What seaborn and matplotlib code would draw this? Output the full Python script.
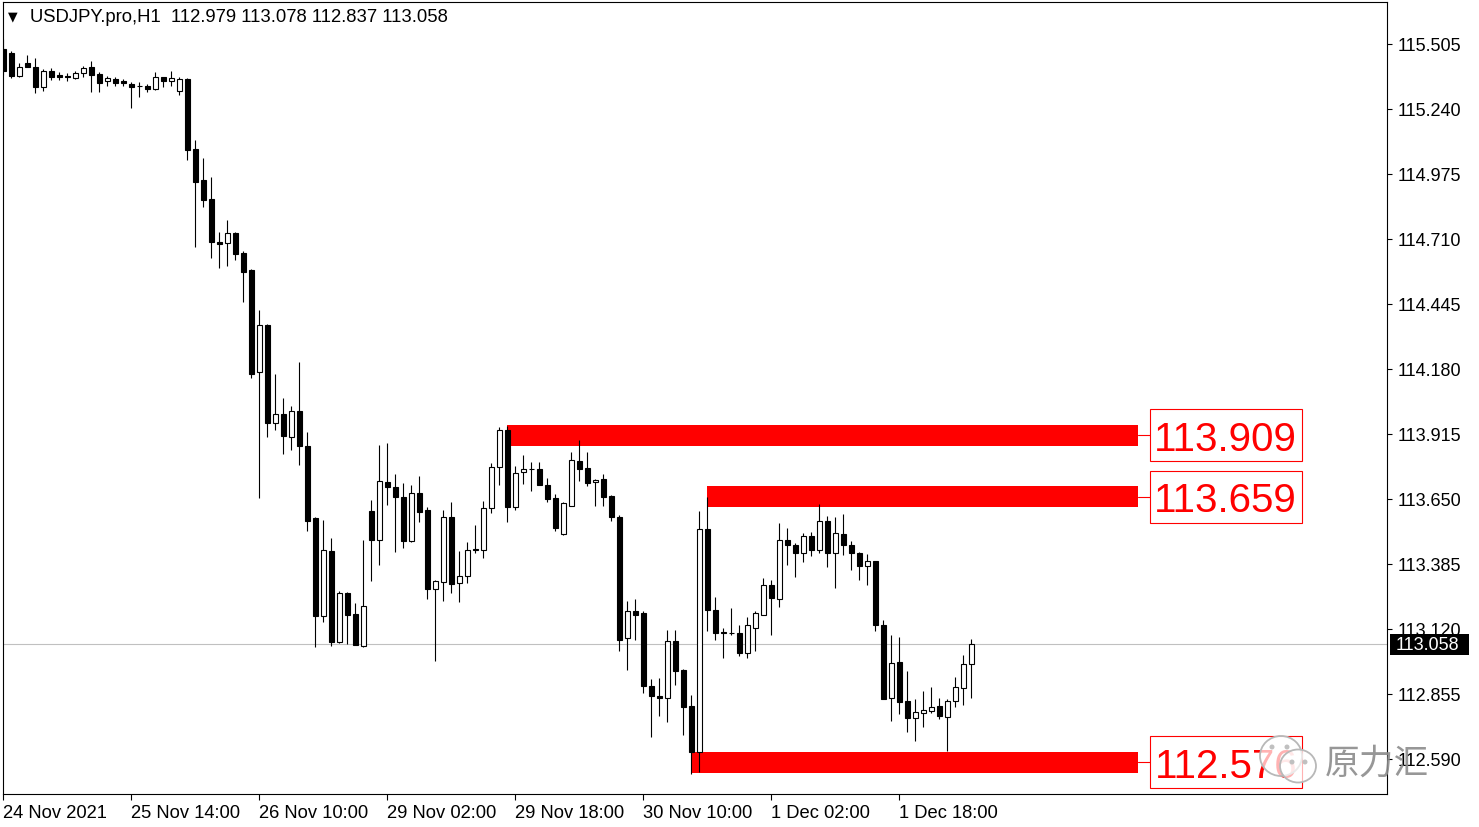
import matplotlib
matplotlib.use("Agg")
import matplotlib.pyplot as plt
import matplotlib.transforms as mtransforms
from matplotlib.patches import Rectangle, Ellipse
import numpy as np
import pandas as pd
import seaborn as sns

# ---------------- data ----------------
symbol_title = "USDJPY.pro,H1  112.979 113.078 112.837 113.058"

opens = [115.485, 115.470, 115.375, 115.428, 115.412, 115.329, 115.395, 115.380, 115.376, 115.366,
         115.386, 115.410, 115.383, 115.353, 115.361, 115.355, 115.342, 115.334, 115.333, 115.322,
         115.369, 115.353, 115.312, 115.362, 115.077, 114.951, 114.873, 114.696, 114.693, 114.735,
         114.653, 114.584, 114.167, 114.359, 113.959, 113.997, 113.902, 114.008, 113.865, 113.571,
         113.174, 113.437, 113.068, 113.267, 113.181, 113.050, 113.600, 113.483, 113.721, 113.698,
         113.657, 113.480, 113.673, 113.605, 113.283, 113.311, 113.575, 113.306, 113.335, 113.446,
         113.443, 113.612, 113.779, 113.931, 113.616, 113.759, 113.772, 113.772, 113.707, 113.654,
         113.505, 113.623, 113.806, 113.776, 113.718, 113.732, 113.662, 113.575, 113.082, 113.195,
         113.185, 112.886, 112.846, 112.838, 113.072, 112.953, 112.805, 112.620, 113.528, 113.198,
         113.108, 113.104, 113.103, 113.022, 113.123, 113.178, 113.301, 113.242, 113.484, 113.464,
         113.429, 113.498, 113.443, 113.558, 113.429, 113.507, 113.464, 113.430, 113.378, 113.396,
         113.136, 112.838, 112.984, 112.825, 112.756, 112.776, 112.785, 112.805, 112.760, 112.825,
         112.878, 112.979]

highs = [115.525, 115.477, 115.428, 115.460, 115.448, 115.403, 115.407, 115.391, 115.387, 115.395,
         115.415, 115.436, 115.391, 115.375, 115.371, 115.362, 115.350, 115.350, 115.342, 115.391,
         115.372, 115.395, 115.371, 115.366, 115.115, 115.040, 114.964, 114.737, 114.788, 114.739,
         114.662, 114.588, 114.421, 114.364, 114.160, 114.061, 114.028, 114.207, 113.922, 113.575,
         113.566, 113.491, 113.274, 113.271, 113.226, 113.483, 113.646, 113.870, 113.877, 113.752,
         113.714, 113.707, 113.743, 113.616, 113.320, 113.606, 113.637, 113.437, 113.473, 113.544,
         113.643, 113.797, 113.942, 113.948, 113.786, 113.829, 113.800, 113.802, 113.734, 113.670,
         113.639, 113.843, 113.892, 113.840, 113.732, 113.752, 113.666, 113.585, 113.233, 113.242,
         113.195, 112.916, 112.920, 113.116, 113.116, 112.957, 112.851, 113.602, 113.659, 113.251,
         113.123, 113.204, 113.136, 113.168, 113.195, 113.327, 113.320, 113.552, 113.531, 113.470,
         113.511, 113.514, 113.630, 113.580, 113.575, 113.589, 113.478, 113.435, 113.426, 113.398,
         113.158, 113.096, 113.086, 112.948, 112.835, 112.866, 112.885, 112.838, 112.835, 112.926,
         113.014, 113.078]

lows = [115.379, 115.366, 115.371, 115.409, 115.305, 115.313, 115.358, 115.358, 115.354, 115.362,
        115.371, 115.309, 115.309, 115.334, 115.334, 115.334, 115.244, 115.289, 115.309, 115.318,
        115.331, 115.334, 115.298, 115.033, 114.679, 114.842, 114.633, 114.592, 114.599, 114.626,
        114.452, 114.142, 113.653, 113.902, 113.929, 113.834, 113.851, 113.789, 113.521, 113.048,
        113.147, 113.052, 113.063, 113.059, 113.054, 113.048, 113.317, 113.382, 113.627, 113.433,
        113.449, 113.476, 113.555, 113.242, 112.988, 113.235, 113.267, 113.231, 113.308, 113.430,
        113.408, 113.593, 113.707, 113.555, 113.606, 113.711, 113.684, 113.706, 113.639, 113.521,
        113.503, 113.620, 113.725, 113.704, 113.623, 113.620, 113.558, 113.032, 112.954, 113.076,
        112.858, 112.681, 112.767, 112.740, 112.893, 112.689, 112.529, 112.536, 113.113, 113.076,
        113.001, 113.096, 113.009, 113.001, 113.032, 113.176, 113.097, 113.211, 113.382, 113.333,
        113.392, 113.416, 113.429, 113.372, 113.286, 113.423, 113.362, 113.321, 113.299, 113.113,
        112.833, 112.746, 112.774, 112.701, 112.665, 112.722, 112.778, 112.753, 112.621, 112.801,
        112.811, 112.837]

closes = [115.395, 115.375, 115.411, 115.411, 115.329, 115.394, 115.371, 115.369, 115.369, 115.386,
          115.407, 115.380, 115.345, 115.366, 115.347, 115.345, 115.329, 115.332, 115.322, 115.369,
          115.353, 115.366, 115.362, 115.074, 114.944, 114.870, 114.697, 114.690, 114.735, 114.649,
          114.577, 114.160, 114.359, 113.959, 113.997, 113.908, 114.008, 113.864, 113.562, 113.174,
          113.442, 113.066, 113.267, 113.177, 113.056, 113.213, 113.484, 113.722, 113.700, 113.657,
          113.480, 113.673, 113.598, 113.283, 113.315, 113.575, 113.304, 113.335, 113.442, 113.442,
          113.612, 113.779, 113.931, 113.616, 113.756, 113.772, 113.770, 113.708, 113.650, 113.532,
          113.634, 113.809, 113.772, 113.715, 113.728, 113.659, 113.575, 113.076, 113.195, 113.178,
          112.889, 112.846, 112.838, 113.072, 112.950, 112.803, 112.620, 113.528, 113.198, 113.104,
          113.102, 113.102, 113.022, 113.138, 113.184, 113.301, 113.245, 113.484, 113.464, 113.429,
          113.498, 113.443, 113.558, 113.429, 113.510, 113.464, 113.429, 113.378, 113.396, 113.138,
          112.835, 112.980, 112.824, 112.756, 112.780, 112.790, 112.801, 112.767, 112.825, 112.882,
          112.975, 113.058]

time_labels = ["24 Nov 2021", "25 Nov 14:00", "26 Nov 10:00", "29 Nov 02:00",
               "29 Nov 18:00", "30 Nov 10:00", "1 Dec 02:00", "1 Dec 18:00"]
price_ticks = [112.590, 112.855, 113.120, 113.385, 113.650, 113.915,
               114.180, 114.445, 114.710, 114.975, 115.240, 115.505]

level_prices = [113.909, 113.659, 112.576]
level_start_bars = [63, 88, 86]
last_price = 113.058
watermark = "原力汇"

# ---------------- style ----------------
sns.set_theme(style="white")
plt.rcParams["font.family"] = ["Liberation Sans", "DejaVu Sans"]

df = pd.DataFrame({"open": opens, "high": highs, "low": lows, "close": closes})
df["bar"] = np.arange(len(df))
df["bull"] = df["close"] >= df["open"]
df["body_lo"] = df[["open", "close"]].min(axis=1)
df["body_h"] = (df["open"] - df["close"]).abs().clip(lower=0.002)

W, H = 1479, 828
fig = plt.figure(figsize=(W / 100, H / 100), dpi=100)
fig.patch.set_facecolor("white")
ax = fig.add_axes([3 / W, 1 - 795 / H, 1384 / W, 792 / H])
ax.set_facecolor("white")
ax.set_xlim(-0.04, 172.96)
ax.set_ylim(112.447, 115.676)

# current price line
ax.axhline(last_price, color="#c0c0c0", lw=0.8, zorder=1)

# level rectangles, connectors and labels
level_end = 141.8
box_left, box_right = 143.3, 162.3
half_rect = 0.043
half_box = 0.106
for p, s in zip(level_prices, level_start_bars):
    ax.add_patch(Rectangle((s, p - half_rect), level_end - s, 2 * half_rect,
                           facecolor="#ff0000", edgecolor="none", zorder=1.5))
    ax.plot([level_end, box_left], [p, p], color="#ff0000", lw=0.8, zorder=1.5)
    ax.add_patch(Rectangle((box_left, p - half_box), box_right - box_left, 2 * half_box,
                           facecolor="white", edgecolor="#ff0000", lw=0.8, zorder=1.6))
    ax.text((box_left + box_right) / 2, p - 0.058, f"{p:.3f}", ha="center", va="baseline",
            color="#ff0000", fontsize=29, zorder=1.7)

# candles
ax.vlines(df["bar"], df["low"], df["high"], color="black", lw=0.8, zorder=2)
ax.bar(df["bar"], df["body_h"], bottom=df["body_lo"], width=0.56,
       color=np.where(df["bull"], "white", "black"), edgecolor="black",
       linewidth=0.8, zorder=3)

# axes styling
for sp in ax.spines.values():
    sp.set_color("black")
    sp.set_linewidth(0.8)
    sp.set_visible(True)

ax.yaxis.tick_right()
ax.set_yticks(price_ticks)
ax.set_yticklabels([f"{v:.3f}" for v in price_ticks])
ax.set_xticks(np.arange(0, len(df), 16)[:len(time_labels)])
ax.set_xticklabels(time_labels, ha="left")
ax.tick_params(axis="y", right=True, left=False, direction="out", length=3.5, width=0.8,
               pad=4.5, labelsize=13, colors="black")
ax.tick_params(axis="x", bottom=True, direction="out", length=4, width=0.8,
               pad=3, labelsize=13.2, colors="black")
for lab in ax.get_xticklabels():
    lab.set_horizontalalignment("left")
ax.grid(False)

# last price tag on right axis
trans = mtransforms.blended_transform_factory(ax.transAxes, ax.transData)
ax.add_patch(Rectangle((1 + 3 / 1384, last_price - 0.043), 79 / 1384, 0.086,
                       transform=trans, facecolor="black", edgecolor="none",
                       clip_on=False, zorder=5))
ax.text(1 + 9 / 1384, last_price, f"{last_price:.3f}", transform=trans, color="white",
        fontsize=13, va="center", ha="left", clip_on=False, zorder=6)

# header
fig.text(8 / W, 1 - 17 / H, "▼", fontsize=9, family=["DejaVu Sans"], va="center", color="black")
fig.text(30 / W, 1 - 18 / H, symbol_title, fontsize=13.3, va="center", color="black")

# watermark
fig.add_artist(Ellipse((1281 / W, 1 - 757 / H), 42 / W, 40 / H, transform=fig.transFigure,
                       facecolor=(1, 1, 1, 0.7), edgecolor="#b8b8b8", lw=1.3, zorder=10))
fig.add_artist(Ellipse((1298 / W, 1 - 767 / H), 36 / W, 33 / H, transform=fig.transFigure,
                       facecolor=(1, 1, 1, 0.7), edgecolor="#b8b8b8", lw=1.3, zorder=10))
for ex, ey in [(1272, 748), (1287, 748), (1292, 763), (1305, 763)]:
    fig.add_artist(Ellipse((ex / W, 1 - ey / H), 5 / W, 5 / H, transform=fig.transFigure,
                           facecolor="#c0c0c0", edgecolor="none", zorder=11))
fig.text(1325 / W, 1 - 764 / H, watermark, fontsize=25, family=["Noto Sans CJK SC"],
         weight="light", va="center", color="#8c8c8c", alpha=0.9, zorder=11)

fig.savefig("out.png", dpi=100, facecolor="white")
